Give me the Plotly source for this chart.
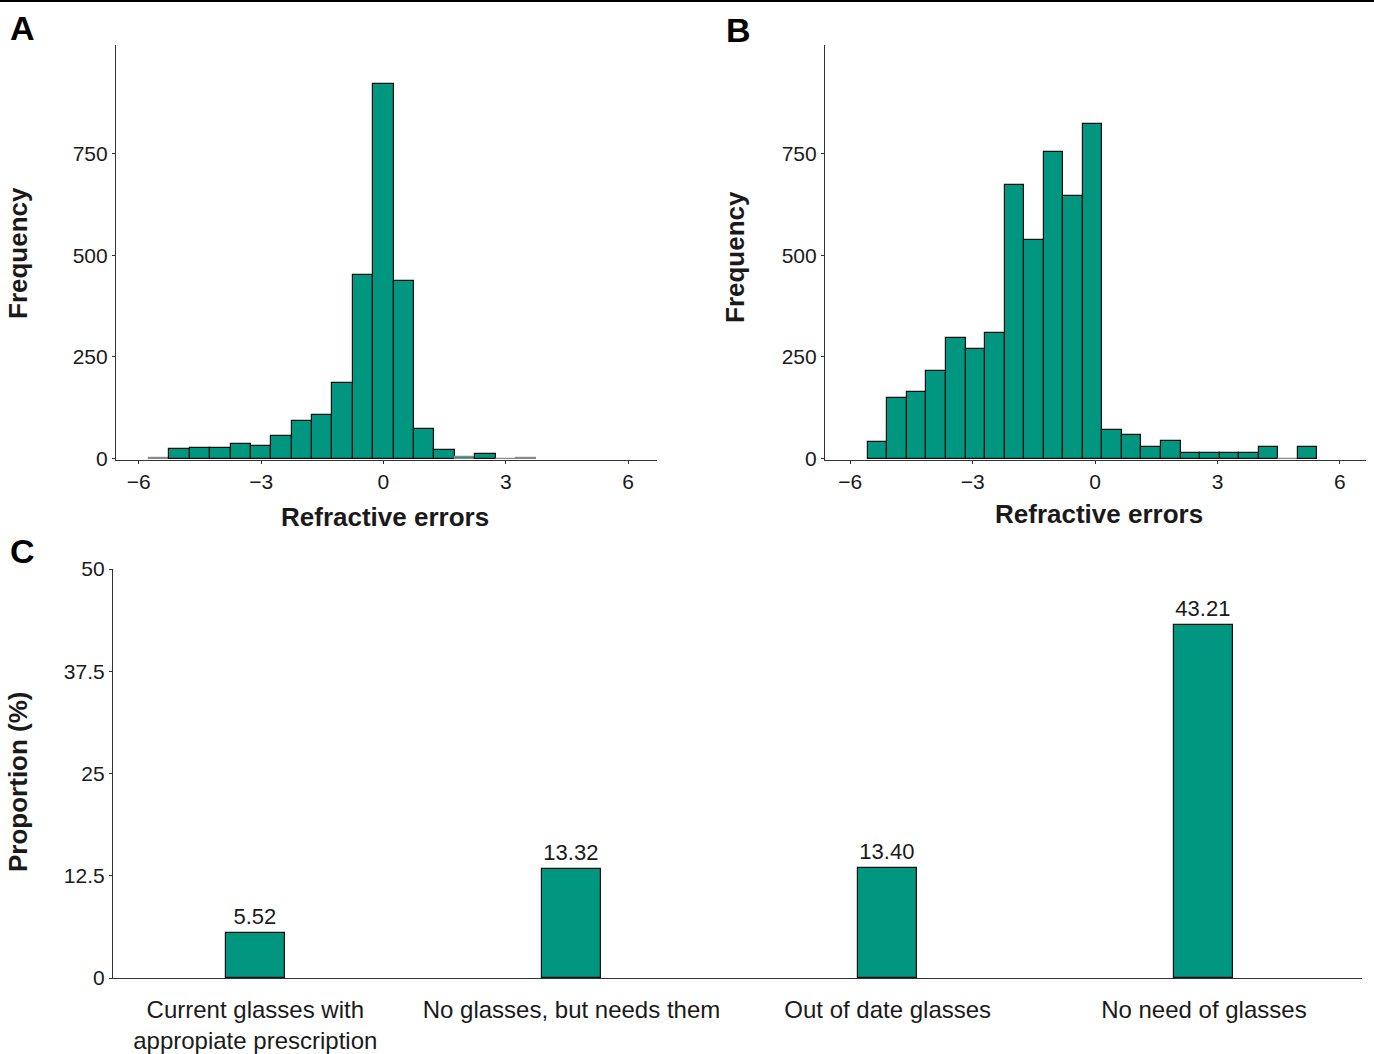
import plotly.graph_objects as go

TEAL = "#009680"
FONT = "Liberation Sans, Arial, Helvetica, sans-serif"
INK = "#1a1a1a"

# ---------------- Data ----------------
# Panel A: histogram of refractive errors (bin centers, counts)
a_bin_centers = [-5.5, -5.0, -4.5, -4.0, -3.5, -3.0, -2.5, -2.0, -1.5, -1.0,
                 -0.5, 0.0, 0.5, 1.0, 1.5, 2.0, 2.5, 3.0, 3.5]
a_counts = [2, 24, 26, 25, 37, 32, 55, 93, 106, 187,
            451, 921, 436, 73, 22, 3, 11, 0, 2]
a_bin_width = 0.5

# Panel B: histogram of refractive errors
b_bin_start = -5.57
b_bin_width = 0.479
b_counts = [41, 150, 164, 215, 296, 269, 309, 672, 538, 754, 646, 822,
            70, 57, 28, 43, 14, 14, 14, 14, 29, 0, 29]
b_bin_centers = [b_bin_start + b_bin_width * (i + 0.5) for i in range(len(b_counts))]

# Panel C: proportions
c_categories = ["Current glasses with<br>appropiate prescription",
                "No glasses, but needs them",
                "Out of date glasses",
                "No need of glasses"]
c_values = [5.52, 13.32, 13.40, 43.21]

hist_ticks = [-6, -3, 0, 3, 6]
freq_ticks = [0, 250, 500, 750]
prop_ticks = [0, 12.5, 25, 37.5, 50]
prop_ticktext = ["0", "12.5", "25", "37.5", "50"]

# ---------------- Figure ----------------
fig = go.Figure()

def outline_colors(counts):
    # very short bars render as faint grey slivers in the reference
    return ["#8a8a8a" if c < 5 else "#111111" for c in counts]

fig.add_trace(go.Bar(x=a_bin_centers, y=a_counts, width=a_bin_width,
                     marker=dict(color=TEAL,
                                 line=dict(color=outline_colors(a_counts), width=1.2)),
                     xaxis="x", yaxis="y", showlegend=False))
fig.add_trace(go.Bar(x=b_bin_centers, y=b_counts, width=b_bin_width,
                     marker=dict(color=TEAL,
                                 line=dict(color=outline_colors(b_counts), width=1.2)),
                     xaxis="x2", yaxis="y2", showlegend=False))
fig.add_trace(go.Bar(x=c_categories, y=c_values, width=0.186,
                     marker=dict(color=TEAL, line=dict(color="#111111", width=1.2)),
                     text=[f"{v:.2f}" for v in c_values], textposition="outside",
                     textfont=dict(size=22, color=INK, family=FONT),
                     cliponaxis=False,
                     xaxis="x3", yaxis="y3", showlegend=False))

W, H = 1374, 1054

def px_x(p):
    return p / W

def px_y(p):
    return 1 - p / H

axis_common = dict(showline=True, linecolor="#333333", linewidth=1.2,
                   ticks="outside", ticklen=3, tickwidth=1.2, tickcolor="#333333",
                   showgrid=False, zeroline=False, automargin=False,
                   tickfont=dict(size=21, color=INK, family=FONT))
title_font = dict(size=26, color=INK, family=FONT, weight="bold")

fig.update_layout(
    width=W, height=H,
    margin=dict(l=0, r=0, t=0, b=0, autoexpand=False),
    paper_bgcolor="white", plot_bgcolor="white",
    font=dict(family=FONT, color=INK),
    bargap=0,
    xaxis=dict(domain=[px_x(116), px_x(657)], range=[-6.56, 6.71],
               tickvals=hist_ticks, anchor="y", **axis_common),
    yaxis=dict(domain=[px_y(460), px_y(45)], range=[-3.5, 1017],
               tickvals=freq_ticks, anchor="x", **axis_common),
    xaxis2=dict(domain=[px_x(825), px_x(1366)], range=[-6.62, 6.64],
                tickvals=hist_ticks, anchor="y2", **axis_common),
    yaxis2=dict(domain=[px_y(460), px_y(45)], range=[-3.5, 1017],
                tickvals=freq_ticks, anchor="x2", **axis_common),
    xaxis3=dict(domain=[px_x(113), px_x(1362)], range=[-0.45, 3.5],
                type="category", anchor="y3",
                showline=True, linecolor="#333333", linewidth=1.2,
                ticks="", showgrid=False, zeroline=False, automargin=False,
                ticklabelstandoff=10,
                tickfont=dict(size=24, color=INK, family=FONT)),
    yaxis3=dict(domain=[px_y(978), px_y(569)], range=[0, 50],
                tickvals=prop_ticks, ticktext=prop_ticktext, anchor="x3",
                **axis_common),
)

# Axis titles (as paper annotations for exact placement)
titles = [
    ("Refractive errors", 385, 517, 0),
    ("Refractive errors", 1099, 514, 0),
    ("Frequency", 18, 253, -90),
    ("Frequency", 735, 257, -90),
    ("Proportion (%)", 18, 782, -90),
]
for txt, x, y, ang in titles:
    fig.add_annotation(text=txt, x=px_x(x), y=px_y(y), xref="paper", yref="paper",
                       showarrow=False, font=title_font, textangle=ang,
                       xanchor="center", yanchor="middle")

letter_font = dict(size=34, color="black", family=FONT, weight="bold")
for letter, x, y in [("A", 22, 28), ("B", 738, 30), ("C", 22, 551)]:
    fig.add_annotation(text=letter, x=px_x(x), y=px_y(y), xref="paper", yref="paper",
                       showarrow=False, font=letter_font, xanchor="center", yanchor="middle")

fig.add_shape(type="line", xref="paper", yref="paper", x0=0, x1=1, y0=0.999, y1=0.999,
              line=dict(color="black", width=2))

fig.write_html("out.html", config={"displayModeBar": False},
               post_script="document.body.style.margin='0';")
